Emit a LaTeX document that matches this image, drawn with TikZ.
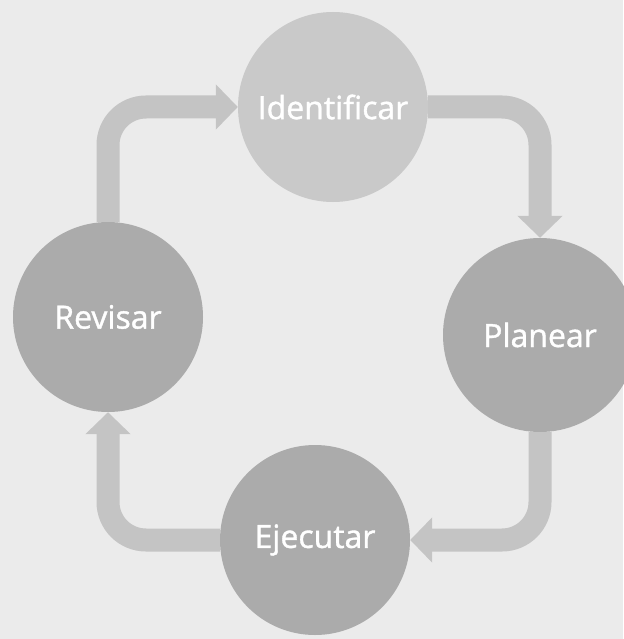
\documentclass[tikz,border=0pt]{standalone}
\usepackage{fontspec}
\setmainfont{Open Sans}
\newfontfamily\lblfont[FakeBold=1.2]{Open Sans}
\usetikzlibrary{arrows.meta}
\definecolor{bgc}{HTML}{EBEBEB}
\definecolor{lightc}{HTML}{C9C9C9}
\definecolor{darkc}{HTML}{ABABAB}
\definecolor{arrc}{HTML}{C4C4C4}
\tikzset{
  stage/.style={circle, minimum size=190pt, inner sep=0pt, text=white, font=\lblfont\fontsize{32}{36}\selectfont},
  flow/.style={draw=arrc, line width=23pt, rounded corners=38pt,
    -{Triangle[width=44pt,length=22pt]}},
}
\begin{document}
\begin{tikzpicture}[x=1pt,y=-1pt]
\fill[bgc] (0,0) rectangle (623,639);
\useasboundingbox (0,0) rectangle (623,639);
\node[stage, fill=lightc] (id) at (333,107) {Identificar};
\node[stage, fill=darkc, minimum size=194pt] (pl) at (540,335) {Planear};
\node[stage, fill=darkc] (ej) at (315,540) {Ejecutar};
\node[stage, fill=darkc] (re) at (108,317) {Revisar};
\draw[flow] (re.north) |- (id.west);
\draw[flow] (id.east) -| (pl.north);
\draw[flow] (pl.south) |- (ej.east);
\draw[flow] (ej.west) -| (re.south);
\end{tikzpicture}
\end{document}
